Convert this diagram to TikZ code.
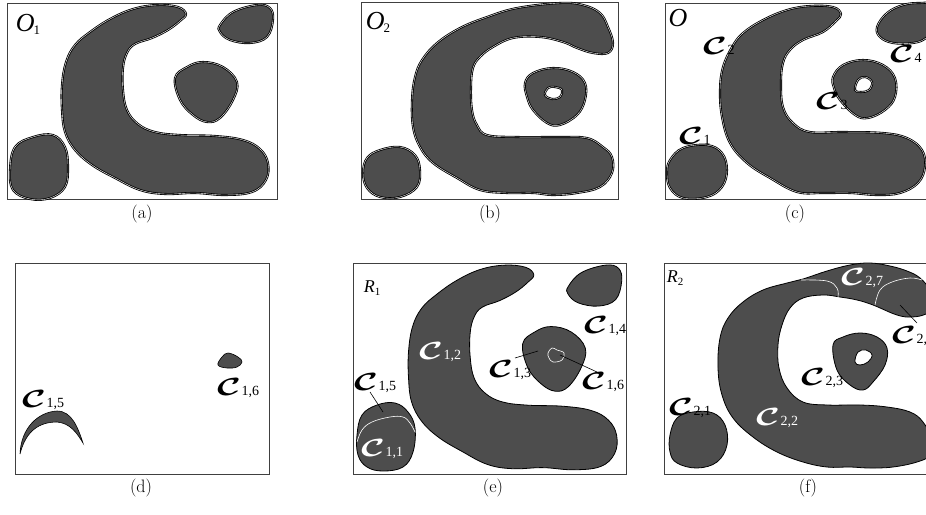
\documentclass[tikz,border=0pt]{standalone}
\usepackage{fontspec}
\usepackage{graphicx}
\newfontfamily\tms{Liberation Serif}
\definecolor{fillc}{RGB}{77,77,77}
\newcommand\cC{\scalebox{1.45}[1]{\fontsize{24}{24}\selectfont\boldmath$\mathcal{C}$}}
\newcommand\cl[1]{\cC\kern0.5pt\raisebox{-0.5pt}{\tms\fontsize{14}{14}\selectfont#1}}
\newcommand\biglab[2]{{\tms\itshape\fontsize{#1}{#1}\selectfont #2}}
\newcommand\subl[2]{\raisebox{-3pt}{\tms\fontsize{#1}{#1}\selectfont #2}}
\tikzset{
 dbl/.style={fill=fillc, draw=black, double=white, double distance=0.4pt, line width=0.85pt},
 dblhole/.style={fill=white, draw=black, double=white, double distance=0.4pt, line width=0.85pt},
 sgl/.style={fill=fillc, draw=black, line width=0.8pt},
 sglhole/.style={fill=white, draw=black, line width=0.8pt},
 frame/.style={draw=black!75, line width=0.8pt},
 captxt/.style={font=\fontsize{18}{18}\selectfont, inner sep=0pt},
 lab/.style={inner sep=0pt, anchor=west},
 wlab/.style={inner sep=0pt, anchor=west, text=white},
 lead/.style={draw=black, line width=0.6pt},
 wline/.style={draw=white, line width=0.6pt},
 smc/.style={smooth cycle, tension=0.65},
 smo/.style={smooth, tension=0.65}
}
\begin{document}
\begin{tikzpicture}[x=1pt,y=-1pt]
\useasboundingbox (0,0) rectangle (926,514);
\clip (0,0) rectangle (926,514);

% ---------------- (a)
\draw[frame] (7,3) rectangle (277,199);
\draw[dbl] plot[smc] coordinates {(186,14) (178,7) (157,5) (133,9) (110,19) (90,32) (75,45) (66,62) (62,85) (62,110) (65,132) (75,150) (92,165) (115,178) (140,190) (165,194) (195,193) (225,195) (252,192) (266,180) (268,163) (260,149) (243,140) (215,136) (180,135) (155,132) (138,124) (127,110) (123,90) (123,68) (127,53) (135,44) (152,38) (168,30) (180,21)};
\draw[dbl] plot[smc] coordinates {(33,137) (53,135) (65,147) (68,167) (65,187) (50,198) (30,199) (13,190) (10,170) (15,147)};
\draw[dbl] plot[smc] coordinates {(175,78) (187,67) (203,62) (223,67) (237,82) (233,100) (220,118) (207,122) (193,115) (180,100)};
\draw[dbl] plot[smc] coordinates {(220,25) (233,12) (257,5) (270,8) (273,20) (267,37) (250,43) (230,40) (220,32)};
\node[inner sep=0pt] (la) at (28,24) {\biglab{26}{O}\kern-1pt\subl{13}{1}};
\node[captxt] (capa) at (142,214) {(a)};

% ---------------- (b)
\draw[frame] (361,2) rectangle (618,199);
\draw[dbl] plot[smc] coordinates {(613,43) (608,27) (600,13) (583,5) (560,3) (517,8) (487,17) (460,28) (437,43) (422,60) (415,77) (412,100) (413,127) (420,147) (433,163) (457,178) (480,190) (507,193) (533,193) (553,195) (577,193) (600,187) (612,173) (612,157) (603,147) (587,138) (560,137) (517,137) (487,135) (477,125) (472,110) (471,87) (473,68) (480,57) (493,47) (513,38) (540,37) (563,42) (577,48) (593,53) (608,53)};
\draw[dbl] plot[smc] coordinates {(367,158) (380,150) (400,147) (415,155) (420,170) (417,187) (400,197) (380,197) (367,188) (363,173)};
\draw[dbl] plot[smc] coordinates {(525,83) (533,73) (553,68) (573,72) (585,83) (585,100) (577,115) (560,125) (547,123) (533,110) (527,97)};
\draw[dblhole] plot[smc] coordinates {(545,95) (548,88) (555,87) (562,90) (560,97) (552,99)};
\node[inner sep=0pt] (lb) at (378,22) {\biglab{26}{O}\kern-1pt\subl{13}{2}};
\node[captxt] (capb) at (490,214) {(b)};

% ---------------- (c)
\draw[frame] (665,3) rectangle (940,199);
\draw[dbl] plot[smc] coordinates {(841,14) (833,7) (810,6) (787,10) (763,20) (743,33) (732,47) (723,67) (720,90) (722,117) (730,143) (747,163) (770,178) (797,192) (823,193) (850,193) (877,195) (900,193) (918,183) (925,167) (922,150) (907,138) (883,133) (843,132) (810,132) (793,123) (783,107) (781,83) (783,63) (790,50) (803,40) (823,32) (836,21)};
\draw[dbl] plot[smc] coordinates {(670,160) (683,148) (707,145) (722,153) (727,170) (722,187) (707,197) (683,198) (670,188) (667,173)};
\draw[dbl] plot[smc] coordinates {(833,77) (843,65) (863,60) (883,65) (895,78) (895,97) (885,110) (868,118) (855,115) (840,100) (834,88)};
\draw[dblhole] plot[smc] coordinates {(855,90) (858,80) (865,77) (872,82) (869,90) (861,92)};
\draw[dbl] plot[smc] coordinates {(877,27) (887,13) (903,5) (920,3) (935,5) (937,25) (926,38) (913,43) (893,43) (880,37)};
\node[inner sep=0pt] (lc) at (678,18) {\biglab{26}{O}};
\node[lab] (c1) at (679,136) {\cl{1}};
\node[lab] (c2) at (703,46) {\cl{2}};
\node[lab] (c3) at (816,101) {\cl{3}};
\node[lab] (c4) at (890,54) {\cl{4}};
\node[captxt] (capc) at (795,214) {(c)};

% ---------------- (d)
\draw[frame] (15,263) rectangle (269,474);
\draw[sgl, line width=0.6pt] (20,454) .. controls (21,428) and (38,412) .. (57,411) .. controls (72,411) and (78,428) .. (83,443) .. controls (77,433) and (70,423) .. (57,422) .. controls (40,422) and (26,430) .. (20,454) -- cycle;
\draw[sgl, line width=0.6pt] plot[smc] coordinates {(218,365) (222,357) (228,353) (238,357) (242,362) (237,367) (227,368)};
\node[lab] (d15) at (22,400) {\cl{1,5}};
\node[lab] (d16) at (217,388) {\cl{1,6}};
\node[captxt] (capd) at (141,488) {(d)};

% ---------------- (e)
\draw[frame] (353,263) rectangle (626,474);
\begin{scope}[shift={(345.93,259.77)}, xscale=1.01, yscale=1.077]
\draw[sgl] plot[smc] coordinates {(186,14) (178,7) (157,5) (133,9) (110,19) (90,32) (75,45) (66,62) (62,85) (62,110) (65,132) (75,150) (92,165) (115,178) (140,190) (165,194) (195,193) (225,195) (252,192) (266,180) (268,163) (260,149) (243,140) (215,136) (180,135) (155,132) (138,124) (127,110) (123,90) (123,68) (127,53) (135,44) (152,38) (168,30) (180,21)};
\draw[sgl] plot[smc] coordinates {(175,78) (187,67) (203,62) (223,67) (237,82) (233,100) (220,118) (207,122) (193,115) (180,100)};
\draw[sgl] plot[smc] coordinates {(220,25) (233,12) (257,5) (270,8) (273,20) (267,37) (250,43) (230,40) (220,32)};
\end{scope}
\draw[sgl] plot[smc] coordinates {(357,435) (362,415) (377,405) (395,403) (408,412) (415,428) (413,452) (403,467) (383,471) (367,467) (358,455)};
\draw[wline] plot[smo] coordinates {(357,442) (362,430) (372,422) (390,417) (403,417) (410,423) (415,432)};
\draw[wline] plot[smc] coordinates {(548,353) (552,348) (557,350) (564,353) (562,360) (553,362) (549,358)};
\node[inner sep=0pt] (le) at (372,288) {\biglab{18}{R}\subl{11}{1}};
\node[wlab] (e12) at (419,352) {\cl{1,2}};
\node[lab] (e13) at (489,370) {\cl{1,3}};
\node[lab] (e14) at (584,326) {\cl{1,4}};
\node[lab] (e15) at (354,383) {\cl{1,5}};
\node[lab] (e16) at (582,382) {\cl{1,6}};
\node[wlab] (e11) at (361,449) {\cl{1,1}};
\coordinate (e15t) at (383,412);
\coordinate (e13t) at (538,351);
\coordinate (e16t) at (560,355);
\draw[lead] (370,392) -- (e15t);
\draw[lead] (515,358) -- (e13t);
\draw[lead] (e16t) -- (597,372);
\node[captxt] (cape) at (493,488) {(e)};

% ---------------- (f)
\draw[frame] (664,263) rectangle (940,474);
\draw[sgl] plot[smc] coordinates {(718,368) (720,338) (728,318) (743,302) (763,290) (787,283) (803,279) (827,271) (850,265) (870,263) (890,266) (907,271) (920,278) (931,291) (937,306) (926,314) (912,317) (897,315) (873,305) (857,300) (840,297) (823,295) (803,298) (790,308) (782,325) (778,345) (779,368) (787,388) (803,402) (827,405) (860,405) (887,407) (910,412) (923,422) (932,440) (930,455) (917,462) (893,467) (870,468) (850,467) (827,467) (803,462) (777,452) (753,437) (733,418) (722,395)};
\draw[wline] plot[smo] coordinates {(801,280) (827,281) (837,288) (838,297)};
\draw[wline] plot[smo] coordinates {(875,305) (880,290) (892,282) (910,278) (922,280)};
\draw[sgl] plot[smc] coordinates {(833,345) (843,337) (860,333) (877,337) (887,348) (885,365) (873,382) (863,390) (850,385) (837,370)};
\draw[sglhole] plot[smc] coordinates {(855,362) (858,352) (866,350) (872,355) (868,362) (860,365)};
\draw[sgl] plot[smc] coordinates {(670,435) (677,418) (693,412) (713,413) (725,425) (727,445) (717,462) (697,468) (677,463) (670,452)};
\node[inner sep=0pt] (lf) at (675,278) {\biglab{18}{R}\subl{11}{2}};
\node[lab] (f21) at (669,408) {\cl{2,1}};
\node[wlab] (f22) at (756,418) {\cl{2,2}};
\node[lab] (f23) at (801,378) {\cl{2,3}};
\node[wlab] (f27) at (841,278) {\cl{2,7}};
\node[lab] (f24) at (892,336) {\cl{2,4}};
\coordinate (f24t) at (900,305);
\draw[lead] (f24t) -- (917,323);
\node[captxt] (capf) at (808,488) {(f)};
\end{tikzpicture}
\end{document}
